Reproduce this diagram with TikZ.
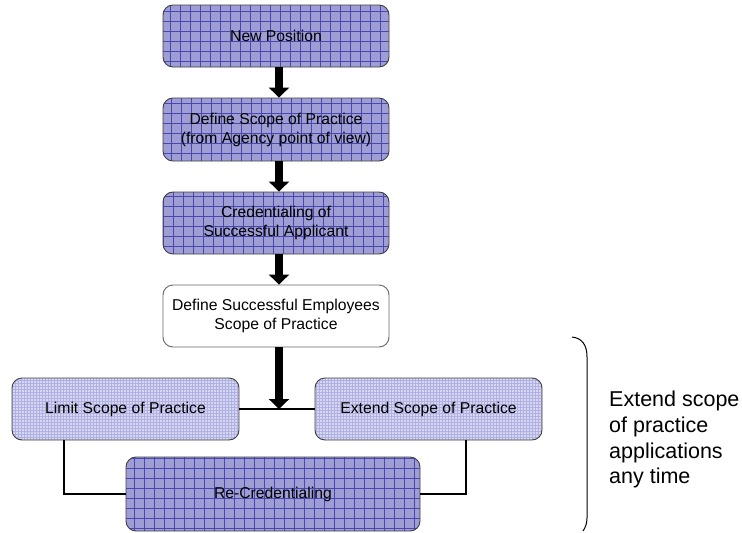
\documentclass[tikz,border=0pt]{standalone}
\usepackage{fontspec}
\setmainfont{Liberation Sans}
\usetikzlibrary{arrows.meta}
\definecolor{darkfill}{RGB}{158,158,212}
\definecolor{darkgrid}{RGB}{72,72,176}
\definecolor{lightfill}{RGB}{214,214,240}
\definecolor{lightgrid}{RGB}{176,176,226}
\definecolor{boxborder}{RGB}{64,64,64}
\tikzset{
  box/.style={draw=boxborder, line width=0.9pt, rounded corners=10pt,
    inner sep=0pt, align=center, font=\fontsize{15.7}{19}\selectfont},
  darkbox/.style={box, fill=darkfill,
    path picture={\draw[darkgrid, line width=0.6pt, step=10pt]
      (path picture bounding box.south west) grid (path picture bounding box.north east);}},
  lightbox/.style={box, fill=lightfill,
    path picture={\draw[lightgrid, line width=0.35pt, step=3pt]
      (path picture bounding box.south west) grid (path picture bounding box.north east);}},
  whitebox/.style={box, fill=white, draw=gray!80!black},
  bigarrow/.style={line width=8pt, -{Triangle[width=20pt,length=10pt]}},
  conn/.style={line width=2.6pt, line cap=rect},
}
\begin{document}
\begin{tikzpicture}[x=1pt,y=-1pt]
\useasboundingbox (0,0) rectangle (742,533);
\node[darkbox, minimum width=226pt, minimum height=62pt] (b1) at (276,36) {New Position};
\node[darkbox, minimum width=226pt, minimum height=63pt] (b2) at (276,129.5) {Define Scope of Practice\\(from Agency point of view)};
\node[darkbox, minimum width=226pt, minimum height=62pt] (b3) at (276,223) {Credentialing of\\Successful Applicant};
\node[whitebox, minimum width=226pt, minimum height=62pt] (b4) at (276,316) {Define Successful Employees\\Scope of Practice};
\node[lightbox, minimum width=227pt, minimum height=62pt] (lim) at (125.5,409) {Limit Scope of Practice};
\node[lightbox, minimum width=227pt, minimum height=62pt] (ext) at (428.5,409) {Extend Scope of Practice};
\node[darkbox, minimum width=294pt, minimum height=74pt] (rec) at (273,494) {Re-Credentialing};
\coordinate (ax) at (279,0);
\coordinate (jn) at (279,409);
\coordinate (lx) at (64,0);
\coordinate (rx) at (466,0);
\draw[bigarrow] (b1.south -| ax) -- (b2.north -| ax);
\draw[bigarrow] (b2.south -| ax) -- (b3.north -| ax);
\draw[bigarrow] (b3.south -| ax) -- (b4.north -| ax);
\draw[conn, line cap=butt] (lim.east) -- (ext.west);
\draw[bigarrow] (b4.south -| ax) -- (jn);
\draw[conn, line cap=butt] (lim.south -| lx) |- (rec.west);
\draw[conn, line cap=butt] (ext.south -| rx) |- (rec.east);
\draw[line width=1pt] (572,337) .. controls (582,338) and (587,345) .. (587,357) -- (587,518) .. controls (587,524) and (585,528) .. (583,531);
\node[anchor=north west, inner sep=0pt, align=left, font=\fontsize{21.5}{25.7}\selectfont] (note) at (609,391) {Extend scope\\of practice\\applications\\any time};
\end{tikzpicture}
\end{document}
